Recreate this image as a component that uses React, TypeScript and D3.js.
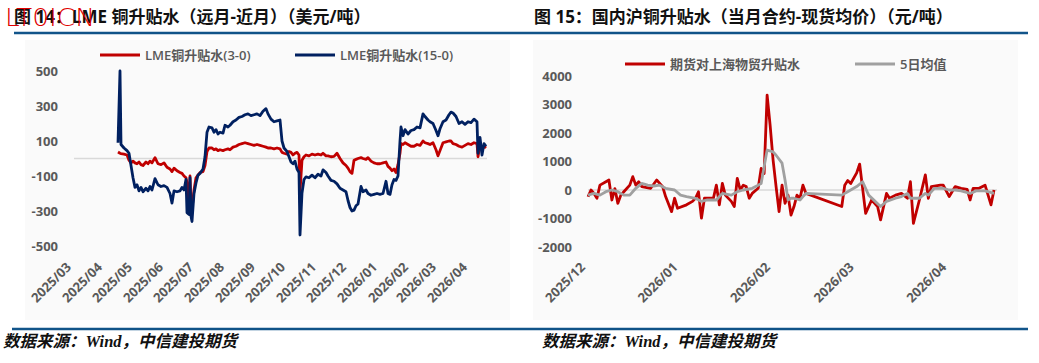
import React from 'react'
import * as d3 from 'd3'

// LME 铜升贴水 (3-0 / 15-0), 美元/吨
const lmeDates = [
    '2025-04-14', '2025-04-16', '2025-04-17', '2025-04-20', '2025-04-23', '2025-04-25', '2025-04-27', '2025-04-29',
    '2025-05-01', '2025-05-03', '2025-05-05', '2025-05-07', '2025-05-09', '2025-05-12', '2025-05-14', '2025-05-16',
    '2025-05-18', '2025-05-21', '2025-05-24', '2025-05-27', '2025-05-30', '2025-06-02', '2025-06-05', '2025-06-07',
    '2025-06-09', '2025-06-12', '2025-06-15', '2025-06-17', '2025-06-19', '2025-06-21', '2025-06-22', '2025-06-24',
    '2025-06-25', '2025-06-26', '2025-06-27', '2025-06-29', '2025-07-01', '2025-07-03', '2025-07-05', '2025-07-08',
    '2025-07-10', '2025-07-12', '2025-07-14', '2025-07-17', '2025-07-19', '2025-07-21', '2025-07-23', '2025-07-25',
    '2025-07-28', '2025-07-30', '2025-08-02', '2025-08-04', '2025-08-07', '2025-08-10', '2025-08-13', '2025-08-16',
    '2025-08-19', '2025-08-22', '2025-08-25', '2025-08-28', '2025-08-31', '2025-09-03', '2025-09-06', '2025-09-09',
    '2025-09-11', '2025-09-14', '2025-09-17', '2025-09-20', '2025-09-23', '2025-09-25', '2025-09-27', '2025-09-30',
    '2025-10-02', '2025-10-04', '2025-10-06', '2025-10-08', '2025-10-10', '2025-10-12', '2025-10-13', '2025-10-15',
    '2025-10-17', '2025-10-19', '2025-10-22', '2025-10-25', '2025-10-28', '2025-10-31', '2025-11-03', '2025-11-05',
    '2025-11-08', '2025-11-10', '2025-11-13', '2025-11-16', '2025-11-19', '2025-11-22', '2025-11-25', '2025-11-28',
    '2025-11-30', '2025-12-02', '2025-12-04', '2025-12-06', '2025-12-08', '2025-12-10', '2025-12-13', '2025-12-15',
    '2025-12-18', '2025-12-20', '2025-12-23', '2025-12-26', '2025-12-29', '2026-01-01', '2026-01-04', '2026-01-07',
    '2026-01-09', '2026-01-11', '2026-01-13', '2026-01-15', '2026-01-17', '2026-01-19', '2026-01-21', '2026-01-22',
    '2026-01-24', '2026-01-26', '2026-01-29', '2026-02-01', '2026-02-04', '2026-02-07', '2026-02-10', '2026-02-13',
    '2026-02-15', '2026-02-18', '2026-02-20', '2026-02-23', '2026-02-26', '2026-02-28', '2026-03-02', '2026-03-05',
    '2026-03-08', '2026-03-11', '2026-03-13', '2026-03-15', '2026-03-18', '2026-03-21', '2026-03-24', '2026-03-27',
    '2026-03-30', '2026-04-02', '2026-04-05', '2026-04-08', '2026-04-09', '2026-04-11', '2026-04-13', '2026-04-15',
    '2026-04-17',
]
const lme3 = [
    37, 30, 28, 25, 20, -10, -25, -15,
    -25, -30, -20, -35, -40, -20, -30, -15,
    -25, 5, -30, -35, -25, -50, -60, -75,
    -55, -70, -80, -85, -100, -110, -140, -260,
    -100, -270, -290, -180, -110, -95, -80, -75,
    -40, 40, 60, 60, 50, 55, 45, 50,
    45, 50, 55, 50, 65, 70, 80, 85,
    90, 85, 80, 75, 80, 75, 70, 65,
    60, 60, 55, 60, 55, 35, 30, 25,
    40, 35, 20, 30, 35, 20, -190, -10,
    10, 20, 15, 25, 20, 25, 20, 30,
    15, 15, 10, 12, 30, 0, -25, -40,
    -55, -75, -85, -10, -5, 0, 5, 0,
    -5, 5, -15, -25, -30, -30, -25, -20,
    -45, -55, -70, -60, -80, -35, 30, 85,
    80, 90, 80, 70, 70, 80, 75, 100,
    90, 85, 80, 90, 50, 15, 45, 90,
    95, 100, 100, 85, 80, 70, 65, 75,
    85, 80, 90, 85, 10, 80, 50, 70,
    60,
]
const lme15 = [
    90, 500, 80, 60, 45, 30, -40, -110,
    -165, -150, -185, -165, -190, -170, -185, -160,
    -180, -115, -150, -160, -155, -165, -200, -255,
    -185, -190, -185, -165, -180, -120, -310, -320,
    -110, -330, -360, -200, -140, -95, -85, -60,
    10, 150, 180, 175, 150, 165, 140, 150,
    145, 190, 180, 190, 210, 220, 235, 240,
    250, 255, 245, 250, 255, 245, 270, 285,
    255, 225, 210, 215, 220, 100, 60, 40,
    10, -20, -30, -15, -60, -80, -437, -197,
    -120, -105, -110, -95, -110, -90, -100, -65,
    -80, -100, -125, -130, -145, -170, -180, -190,
    -240, -280, -300, -295, -270, -260, -160, -190,
    -180, -200, -210, -205, -200, -205, -200, -130,
    -200, -205, -150, -120, -125, -100, 100, 180,
    130, 165, 140, 160, 165, 180, 175, 255,
    240, 220, 210, 200, 160, 130, 170, 210,
    220, 250, 265, 260, 240, 200, 210, 195,
    210, 205, 225, 210, 30, 120, 20, 85,
    70,
]
const lmeMonths = [
    '2025-03', '2025-04', '2025-05', '2025-06', '2025-07', '2025-08', '2025-09',
    '2025-10', '2025-11', '2025-12', '2026-01', '2026-02', '2026-03', '2026-04',
]
const lmeYTicks = [-500, -300, -100, 100, 300, 500]

// 期货对上海物贸升贴水, 元/吨
const shDates = [
    '2025-12-01', '2025-12-02', '2025-12-03', '2025-12-04', '2025-12-05', '2025-12-07', '2025-12-08', '2025-12-09',
    '2025-12-10', '2025-12-11', '2025-12-12', '2025-12-13', '2025-12-15', '2025-12-16', '2025-12-17', '2025-12-18',
    '2025-12-19', '2025-12-22', '2025-12-24', '2025-12-26', '2025-12-27', '2025-12-29', '2025-12-30', '2025-12-31',
    '2026-01-03', '2026-01-05', '2026-01-06', '2026-01-07', '2026-01-08', '2026-01-09', '2026-01-11', '2026-01-12',
    '2026-01-13', '2026-01-14', '2026-01-15', '2026-01-16', '2026-01-18', '2026-01-19', '2026-01-20', '2026-01-21',
    '2026-01-22', '2026-01-23', '2026-01-24', '2026-01-25', '2026-01-27', '2026-01-28', '2026-01-29', '2026-01-30',
    '2026-01-31', '2026-02-01', '2026-02-02', '2026-02-03', '2026-02-04', '2026-02-05', '2026-02-06', '2026-02-07',
    '2026-02-08', '2026-02-09', '2026-02-10', '2026-02-11', '2026-02-12', '2026-02-24', '2026-02-25', '2026-02-26',
    '2026-02-27', '2026-03-01', '2026-03-02', '2026-03-04', '2026-03-06', '2026-03-08', '2026-03-09', '2026-03-11',
    '2026-03-12', '2026-03-14', '2026-03-16', '2026-03-18', '2026-03-19', '2026-03-20', '2026-03-22', '2026-03-24',
    '2026-03-25', '2026-03-26', '2026-03-29', '2026-03-30', '2026-04-01', '2026-04-03', '2026-04-05', '2026-04-07',
    '2026-04-08', '2026-04-09', '2026-04-11', '2026-04-13', '2026-04-15', '2026-04-16',
]
const shBasis = [
    -235, 0, -120, -290, 170, 290, 350, -350,
    50, -470, -180, -60, 170, 470, 170, 290,
    120, 60, 350, 120, -230, -760, -290, -640,
    -520, -400, -290, -60, -990, -290, -290, -290,
    170, -520, 230, -180, -400, -580, 410, 0,
    170, 120, -290, -120, 60, 760, 580, 3330,
    2280, 1050, 120, -760, 170, -470, -180, -880,
    -580, -180, -290, 170, -120, -580, 170, 330,
    230, 600, 910, -820, -350, -580, -1050, -120,
    -290, -180, -120, -290, 290, -1170, -350, 530,
    -290, 120, 170, 170, -230, 120, 60, 20,
    -350, 60, 60, 170, -520, 0,
]
const maDates = [
    '2025-12-01', '2025-12-03', '2025-12-05', '2025-12-07', '2025-12-09', '2025-12-11', '2025-12-13', '2025-12-15',
    '2025-12-17', '2025-12-19', '2025-12-21', '2025-12-23', '2025-12-25', '2025-12-27', '2025-12-30', '2026-01-01',
    '2026-01-03', '2026-01-06', '2026-01-08', '2026-01-10', '2026-01-13', '2026-01-14', '2026-01-15', '2026-01-18',
    '2026-01-20', '2026-01-22', '2026-01-25', '2026-01-27', '2026-01-28', '2026-01-29', '2026-01-30', '2026-02-01',
    '2026-02-02', '2026-02-04', '2026-02-05', '2026-02-06', '2026-02-07', '2026-02-08', '2026-02-10', '2026-02-11',
    '2026-02-12', '2026-02-24', '2026-02-26', '2026-03-01', '2026-03-03', '2026-03-05', '2026-03-09', '2026-03-11',
    '2026-03-14', '2026-03-16', '2026-03-18', '2026-03-19', '2026-03-22', '2026-03-24', '2026-03-25', '2026-03-27',
    '2026-03-30', '2026-04-01', '2026-04-03', '2026-04-05', '2026-04-08', '2026-04-10', '2026-04-13', '2026-04-16',
]
const shMa5 = [
    -180, -120, -180, -60, 0, -60, -180, -180,
    60, 230, 170, 140, 170, 60, 0, -180,
    -230, -290, -400, -350, -350, -230, -120, -180,
    -60, 0, 60, 170, 230, 820, 1400, 1340,
    1220, 940, 350, -350, -290, -290, -350, -230,
    -120, -180, -60, 120, 290, -180, -580, -400,
    -290, -230, -120, -290, -290, -120, -180, 60,
    60, 0, 0, -30, -120, -30, -30, -120,
]
const shMonths = ['2025-12', '2026-01', '2026-02', '2026-03', '2026-04']
const shYTicks = [-2000, -1000, 0, 1000, 2000, 3000, 4000]

const parseDay = d3.timeParse('%Y-%m-%d')
const parseMonth = d3.timeParse('%Y-%m')
const fmtMonth = d3.timeFormat('%Y/%m')

const GRAY_TEXT = '#595959'
const RULE = '#12558a'
const FONT = "'Open Sans', 'Noto Sans CJK SC', sans-serif"

type Series = { dates: string[], values: number[], color: string, label: string }

const Panel = ({ left, title, xDomain, xRange, yDomain, yRange, yTicks, months, yLabelX, series, legendX, legendY }) => {
    const x = d3.scaleTime().domain(xDomain.map(parseDay)).range(xRange)
    const y = d3.scaleLinear().domain(yDomain).range(yRange)
    const line = d3.line<[Date, number]>().x(d => x(d[0])).y(d => y(d[1]))

    return (
        <g>
            <text x={left + 14} y={23} fontSize={17} fontWeight={700} fill="#111" fontFamily={FONT}>{title}</text>
            <line x1={left === 0 ? 14 : 520} x2={left === 0 ? 520 : 1028} y1={33} y2={33} stroke={RULE} strokeWidth={2.6} />
            <rect x={left === 0 ? 25 : 533} y={40} width={485} height={280} fill="#fafafa" />

            {/* zero line */}
            <line x1={xRange[0]} x2={xRange[1]} y1={y(0)} y2={y(0)} stroke="#d9d9d9" strokeWidth={1.5} />

            {/* y tick labels */}
            {yTicks.map(t => (
                <text key={t} x={yLabelX} y={y(t)} dy="0.35em" textAnchor="end" fontSize={13} fontWeight={700}
                    fill={GRAY_TEXT} fontFamily={FONT}>{t}</text>
            ))}

            {/* x tick labels */}
            {months.map(m => {
                const d = parseMonth(m)
                return (
                    <text key={m} transform={`translate(${x(d) - 2},268) rotate(-45)`} textAnchor="end" fontSize={13}
                        fontWeight={700} fill={GRAY_TEXT} fontFamily={FONT}>{fmtMonth(d)}</text>
                )
            })}

            {/* lines */}
            {series.map((s: Series) => (
                <path key={s.label} d={line(s.dates.map((d, i) => [parseDay(d), s.values[i]]))}
                    fill="none" stroke={s.color} strokeWidth={2.8} strokeLinejoin="round" />
            ))}

            {/* legend */}
            {series.map((s: Series, i) => (
                <g key={s.label} transform={`translate(${legendX[i]},${legendY})`}>
                    <line x1={0} x2={40} y1={0} y2={0} stroke={s.color} strokeWidth={3} />
                    <text x={45} y={0} dy="0.36em" fontSize={13} fontWeight={600} fill={GRAY_TEXT} fontFamily={FONT}>{s.label}</text>
                </g>
            ))}

            {/* source */}
            <line x1={left === 0 ? 12 : 520} x2={left === 0 ? 520 : 1028} y1={329} y2={329} stroke={RULE} strokeWidth={2.6} />
            <text x={left === 0 ? 3 : 542} y={347} fontSize={16.5} fontStyle="italic" fontWeight={700} fill="#111"
                fontFamily="'Liberation Serif', 'Noto Sans CJK SC', serif">数据来源：Wind，中信建投期货</text>
        </g>
    )
}

export default function App() {
    return (
        <svg width={1039} height={363} style={{ position: 'absolute', left: 0, top: 0, background: '#fff' }}>
            <rect width={1039} height={363} fill="#fff" />
            <Panel
                left={0}
                title="图 14：LME 铜升贴水（远月-近月）（美元/吨）"
                xDomain={['2025-03-01', '2026-04-18']}
                xRange={[74, 487]}
                yDomain={[-500, 500]}
                yRange={[246, 71]}
                yTicks={lmeYTicks}
                months={lmeMonths}
                yLabelX={58}
                legendX={[100, 295]}
                legendY={55}
                series={[
                    { dates: lmeDates, values: lme3, color: '#c00000', label: 'LME铜升贴水(3-0)' },
                    { dates: lmeDates, values: lme15, color: '#002060', label: 'LME铜升贴水(15-0)' },
                ]}
            />
            <Panel
                left={520}
                title="图 15：国内沪铜升贴水（当月合约-现货均价）（元/吨）"
                xDomain={['2025-12-01', '2026-04-17']}
                xRange={[588, 997]}
                yDomain={[-2000, 4000]}
                yRange={[247, 76]}
                yTicks={shYTicks}
                months={shMonths}
                yLabelX={572}
                legendX={[625, 855]}
                legendY={64}
                series={[
                    { dates: shDates, values: shBasis, color: '#c00000', label: '期货对上海物贸升贴水' },
                    { dates: maDates, values: shMa5, color: '#a0a0a0', label: '5日均值' },
                ]}
            />
            <text x={5} y={26} fontSize={25} fill="#e00000" fontFamily="'DejaVu Sans', sans-serif" fontWeight={200}
                textLength={90} lengthAdjust="spacingAndGlyphs">LT0ICN</text>
        </svg>
    )
}
